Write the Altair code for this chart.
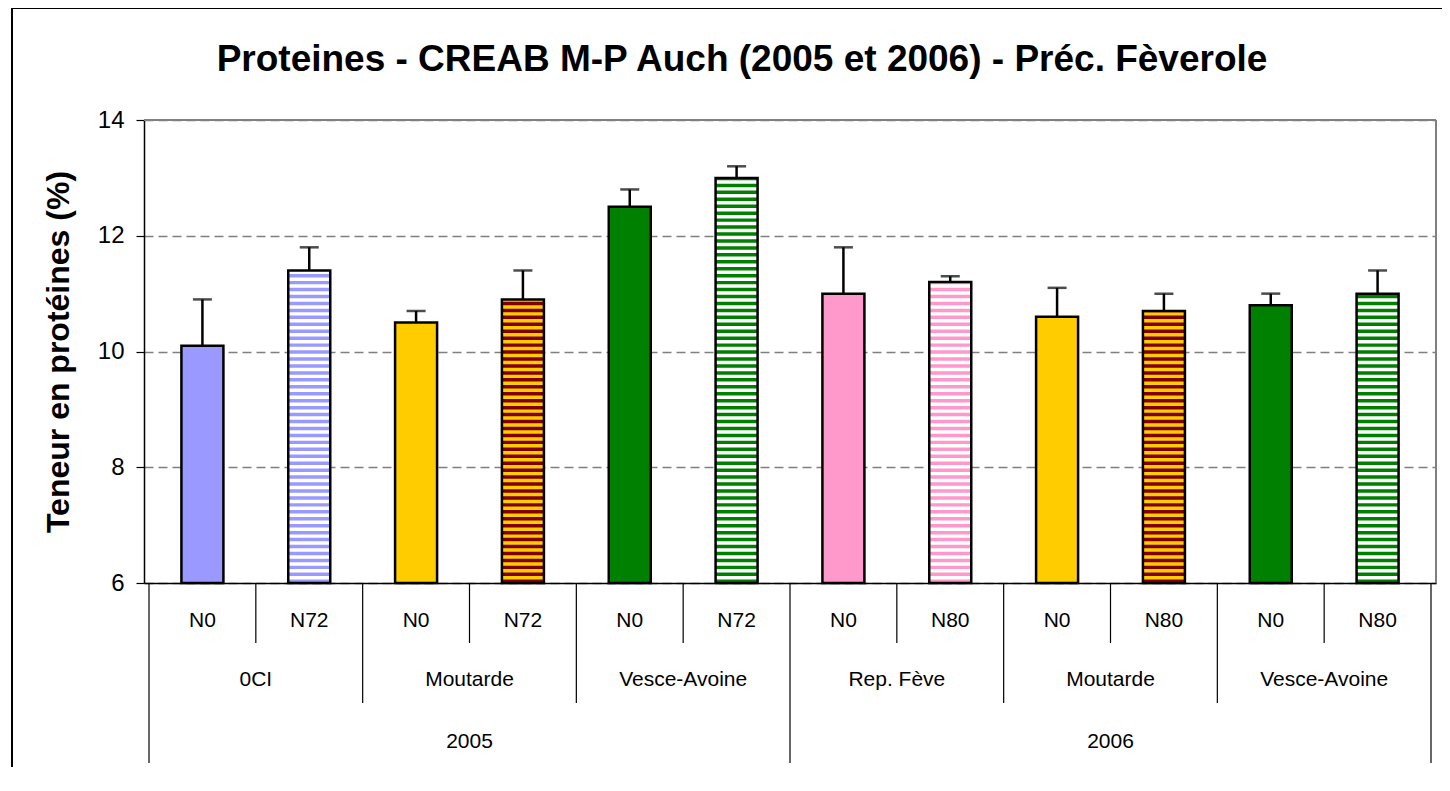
import altair as alt
import pandas as pd

# ---------------- data ----------------
years = ["2005"] * 6 + ["2006"] * 6
covers = ["0CI", "0CI", "Moutarde", "Moutarde", "Vesce-Avoine", "Vesce-Avoine",
          "Rep. Fève", "Rep. Fève", "Moutarde", "Moutarde", "Vesce-Avoine", "Vesce-Avoine"]
doses = ["N0", "N72", "N0", "N72", "N0", "N72", "N0", "N80", "N0", "N80", "N0", "N80"]
values = [10.1, 11.4, 10.5, 10.9, 12.5, 13.0, 11.0, 11.2, 10.6, 10.7, 10.8, 11.0]
errors = [0.8, 0.4, 0.2, 0.5, 0.3, 0.2, 0.8, 0.1, 0.5, 0.3, 0.2, 0.4]
base_colors = ["#9999FF", "#FFFFFF", "#FFCC00", "#FFCC00", "#008000", "#FFFFFF",
               "#FF99CC", "#FFFFFF", "#FFCC00", "#FFCC00", "#008000", "#FFFFFF"]
stripe_colors = [None, "#9999FF", None, "#800000", None, "#008000",
                 None, "#FF99CC", None, "#800000", None, "#008000"]
title_text = "Proteines - CREAB M-P Auch (2005 et 2006) - Préc. Fèverole"
y_title = "Teneur en protéines (%)"

FONT = "Liberation Sans"
W, H = 1292, 463
YMIN, YMAX = 6, 14
BAR = 42
PERIOD = 0.12  # stripe period in data units (pattern styling)

n = len(values)
df = pd.DataFrame({
    "x": [i + 0.5 for i in range(n)],
    "year": years, "cover": covers, "dose": doses,
    "value": values, "err": errors,
    "top": [v + e for v, e in zip(values, errors)],
    "base": [YMIN] * n,
    "fill": base_colors,
})

# stripes derived from values
srows = []
for i in range(n):
    if stripe_colors[i] is None:
        continue
    k = 0
    while YMIN + k * PERIOD < values[i]:
        y0 = YMIN + k * PERIOD
        y1 = min(y0 + PERIOD / 2, values[i])
        srows.append({"x": i + 0.5, "y0": y0, "y1": y1, "c": stripe_colors[i]})
        k += 1
sdf = pd.DataFrame(srows)


def runs(keys):
    out = []
    start = 0
    for i in range(1, n + 1):
        if i == n or keys[i] != keys[start]:
            out.append({"x": (start + i) / 2, "label": keys[start][-1]})
            start = i
    return out


cover_df = pd.DataFrame(runs([(y, c) for y, c in zip(years, covers)]))
year_df = pd.DataFrame(runs([(y,) for y in years]))

seps = []
for b in range(n + 1):
    if b == 0 or b == n or years[b] != years[b - 1]:
        lvl = 3
    elif covers[b] != covers[b - 1]:
        lvl = 2
    else:
        lvl = 1
    seps.append({"x": b, "lvl": lvl})
sep_df = pd.DataFrame(seps)

xs = alt.Scale(domain=[0, n], nice=False, zero=False)
ys = alt.Scale(domain=[YMIN, YMAX], nice=False, zero=False)

X = alt.X("x:Q", scale=xs,
          axis=alt.Axis(title=None, labels=False, ticks=False, grid=False,
                        domainColor="black", domainWidth=1.5))
Y_axis = alt.Axis(title=y_title, values=[6, 8, 10, 12, 14], format="d",
                  tickSize=8, tickColor="black", tickWidth=1.2,
                  domainColor="black", domainWidth=1.5,
                  labelFont=FONT, labelFontSize=24, labelColor="black", labelPadding=12,
                  titleFont=FONT, titleFontSize=32, titleFontWeight="bold",
                  titleColor="black", titlePadding=22,
                  grid=True, gridDash=[9, 5], gridColor="#808080", gridWidth=1.5)

base = alt.Chart(df)

bars_fill = base.mark_bar(size=BAR, strokeWidth=0).encode(
    x=X,
    y=alt.Y("value:Q", scale=ys, axis=Y_axis),
    y2="base:Q",
    fill=alt.Fill("fill:N", scale=None),
)

stripes = alt.Chart(sdf).mark_bar(size=BAR, strokeWidth=0).encode(
    x=alt.X("x:Q", scale=xs),
    y=alt.Y("y0:Q", scale=ys),
    y2="y1:Q",
    fill=alt.Fill("c:N", scale=None),
)

bars_outline = base.mark_bar(size=BAR, fillOpacity=0, stroke="black", strokeWidth=2.5).encode(
    x=alt.X("x:Q", scale=xs),
    y=alt.Y("value:Q", scale=ys),
    y2="base:Q",
)

err_rule = base.mark_rule(color="black", strokeWidth=2.5).encode(
    x=alt.X("x:Q", scale=xs),
    y=alt.Y("value:Q", scale=ys),
    y2="top:Q",
)
err_cap = base.mark_tick(orient="horizontal", size=19, thickness=2.5, color="black").encode(
    x=alt.X("x:Q", scale=xs),
    y=alt.Y("top:Q", scale=ys),
)

txt = dict(font=FONT, fontSize=21, color="black", baseline="middle")
dose_txt = base.mark_text(**txt).encode(
    x=alt.X("x:Q", scale=xs), y=alt.value(H + 38), text="dose:N")
cover_txt = alt.Chart(cover_df).mark_text(**txt).encode(
    x=alt.X("x:Q", scale=xs), y=alt.value(H + 97), text="label:N")
year_txt = alt.Chart(year_df).mark_text(**txt).encode(
    x=alt.X("x:Q", scale=xs), y=alt.value(H + 159), text="label:N")

sep_layers = []
for lvl, length in [(1, 60), (2, 120), (3, 180)]:
    sep_layers.append(
        alt.Chart(sep_df).transform_filter(alt.datum.lvl == lvl)
        .mark_rule(color="black", strokeWidth=1.2)
        .encode(x=alt.X("x:Q", scale=xs), y=alt.value(H), y2=alt.value(H + length))
    )

# plot-area border (top and right, grey)
border_top = base.mark_rule(color="#808080", strokeWidth=2).encode(
    x=alt.value(0), x2=alt.value(W), y=alt.value(0))
border_right = base.mark_rule(color="#808080", strokeWidth=2).encode(
    x=alt.value(W), y=alt.value(0), y2=alt.value(H))

# outer chart frame (top and left visible)
frame_top = base.mark_rule(color="black", strokeWidth=2).encode(
    x=alt.value(-132), x2=alt.value(W + 14), y=alt.value(-112))
frame_left = base.mark_rule(color="black", strokeWidth=2).encode(
    x=alt.value(-132), y=alt.value(-112), y2=alt.value(H + 200))

title_mark = alt.Chart(pd.DataFrame({"t": [title_text]})).mark_text(
    font=FONT, fontSize=37, fontWeight="bold", color="black",
    baseline="alphabetic", align="center").encode(
    x=alt.value(598), y=alt.value(-49), text="t:N")

chart = alt.layer(
    bars_fill, stripes, bars_outline, err_rule, err_cap,
    dose_txt, cover_txt, year_txt, *sep_layers,
    border_top, border_right, frame_top, frame_left, title_mark
).properties(
    width=W, height=H,
    background="white",
    autosize=alt.AutoSizeParams(type="none"),
    padding={"left": 136, "top": 112, "right": 6, "bottom": 184},
).configure_view(stroke=None)

chart.save("out.html", embed_options={"renderer": "svg", "actions": False})
